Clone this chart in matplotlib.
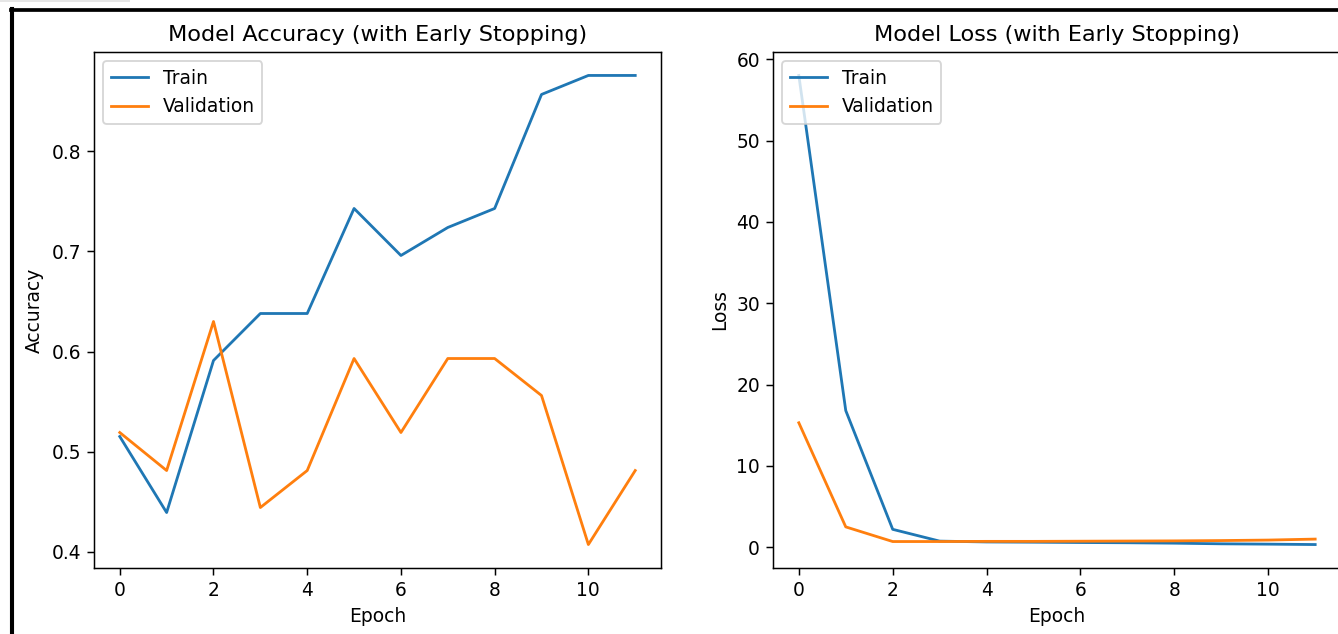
import matplotlib
matplotlib.use('Agg')
import matplotlib.pyplot as plt
from matplotlib.lines import Line2D
from matplotlib.patches import Rectangle

W, H, DPI = 1338, 634, 134

epochs = list(range(12))

# accuracy history
train_acc = [0.515, 0.439, 0.591, 0.638, 0.638, 0.743, 0.696, 0.724, 0.743, 0.857, 0.876, 0.876]
val_acc = [0.519, 0.481, 0.630, 0.444, 0.481, 0.593, 0.519, 0.593, 0.593, 0.556, 0.407, 0.481]

# loss history
train_loss = [58.0, 16.8, 2.2, 0.75, 0.65, 0.62, 0.58, 0.55, 0.50, 0.42, 0.38, 0.33]
val_loss = [15.3, 2.5, 0.70, 0.70, 0.72, 0.72, 0.74, 0.76, 0.78, 0.82, 0.88, 1.0]

fig = plt.figure(figsize=(W / DPI, H / DPI), dpi=DPI)

# axes placed by pixel boxes
def px_axes(x0, x1, y0, y1):
    return fig.add_axes([x0 / W, (H - y1) / H, (x1 - x0) / W, (y1 - y0) / H])

ax1 = px_axes(94, 661, 52, 568)
ax2 = px_axes(773, 1341, 52, 568)

ax1.plot(epochs, train_acc, label='Train')
ax1.plot(epochs, val_acc, label='Validation')
ax1.set_title('Model Accuracy (with Early Stopping)')
ax1.set_xlabel('Epoch')
ax1.set_ylabel('Accuracy')
ax1.legend(loc='upper left')

ax2.plot(epochs, train_loss, label='Train')
ax2.plot(epochs, val_loss, label='Validation')
ax2.set_title('Model Loss (with Early Stopping)')
ax2.set_xlabel('Epoch')
ax2.set_ylabel('Loss')
ax2.legend(loc='upper left')

# screenshot frame
fig.add_artist(Line2D([11.5 / W, 11.5 / W], [0, (H - 9) / H], color='black', lw=2.2,
                      transform=fig.transFigure))
fig.add_artist(Line2D([10.5 / W, 1], [(H - 9.5) / H, (H - 9.5) / H], color='black', lw=2.0,
                      transform=fig.transFigure))
fig.add_artist(Rectangle((0, (H - 2) / H), 130 / W, 2 / H, facecolor='#e6e6e6',
                         edgecolor='none', transform=fig.transFigure))

fig.savefig('out.png', dpi=DPI)
